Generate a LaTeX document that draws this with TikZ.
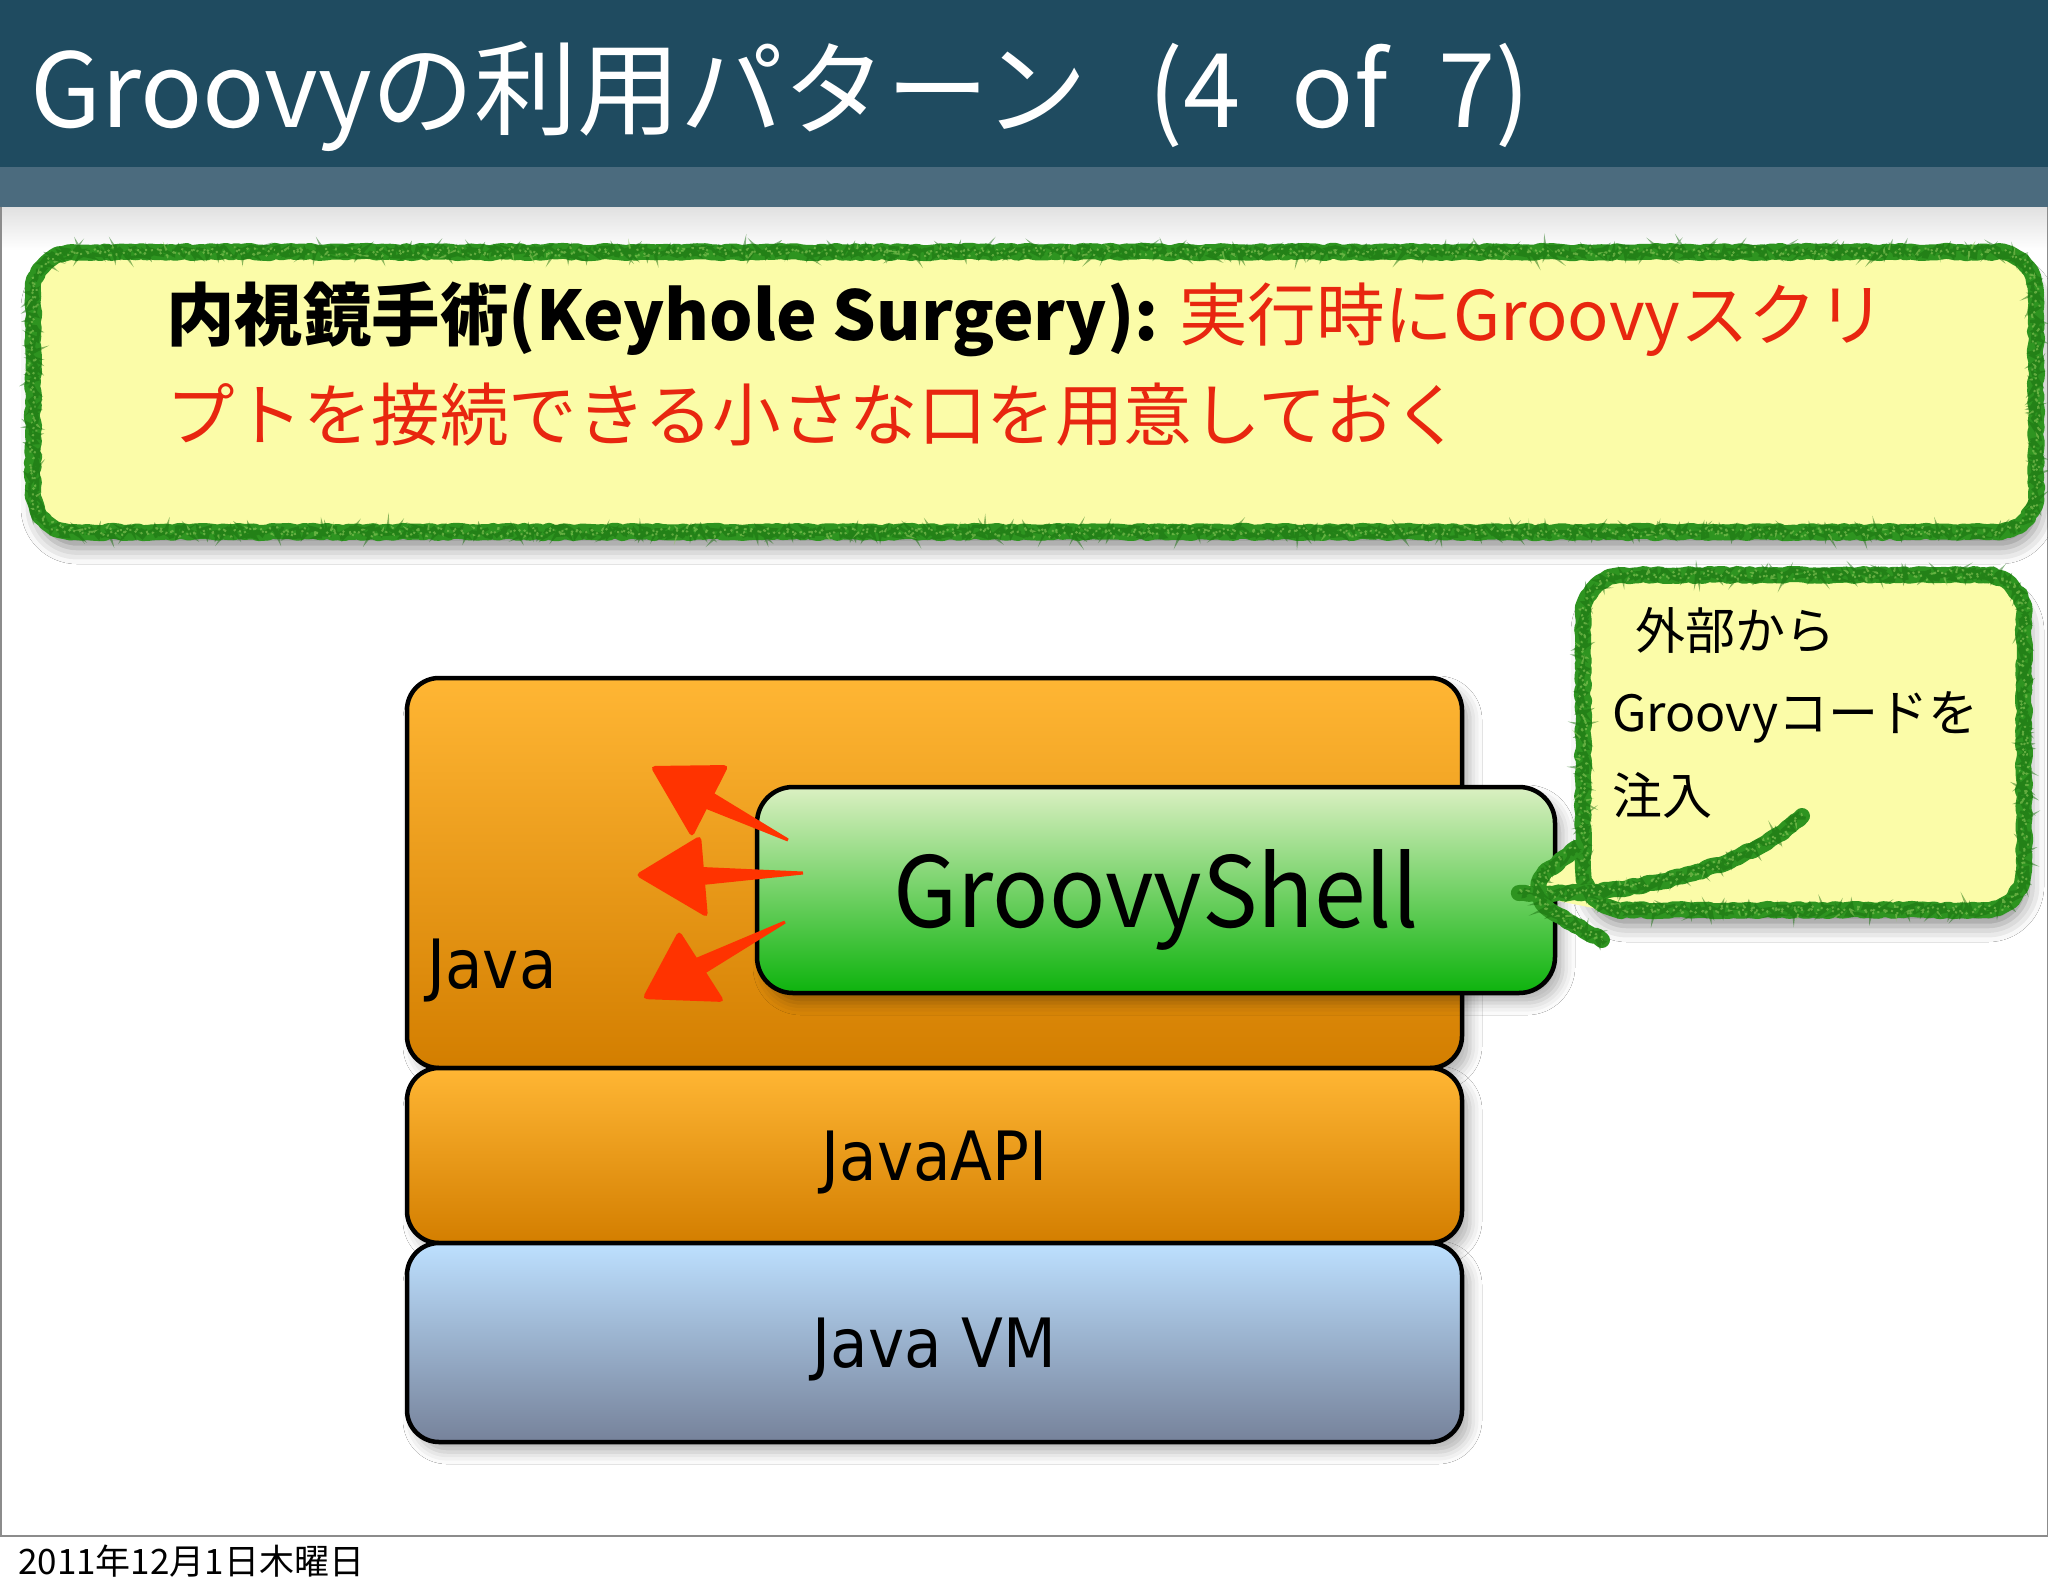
\documentclass[tikz,border=0pt]{standalone}
\usepackage{fontspec}
\usepackage{xcolor}
\usepackage{tikz}
\usetikzlibrary{calc,positioning,decorations.pathmorphing,shadows.blur}
\setmainfont{Noto Sans CJK JP}
\newfontfamily\labfont[FakeStretch=0.9]{DejaVu Sans}
\newfontfamily\shellfont[FakeStretch=0.95]{Noto Sans CJK JP}
\definecolor{bar}{HTML}{1F4B60}
\definecolor{barlow}{HTML}{4B6B7E}
\definecolor{note}{HTML}{FBFCA8}
\definecolor{crayon}{HTML}{2E9420}
\definecolor{crayondark}{HTML}{1A7010}
\definecolor{crayonlight}{HTML}{8CC85A}
\definecolor{alert}{HTML}{E8260F}
\definecolor{arrowred}{HTML}{FF3300}
\definecolor{javatop}{HTML}{FFB634}
\definecolor{javabot}{HTML}{D37E00}
\definecolor{vmtop}{HTML}{BDE0FF}
\definecolor{vmmid}{HTML}{A2B9D6}
\definecolor{vmbot}{HTML}{76829A}
\definecolor{shelltop}{HTML}{DBF0C2}
\definecolor{shellmid}{HTML}{85D670}
\definecolor{shellbot}{HTML}{0DB30D}
\tikzset{
  frame/.style={draw=black!45, line width=1.5pt},
  titletext/.style={text=white, inner sep=0pt, font=\fontsize{103}{110}\selectfont},
  datetext/.style={text=black, inner sep=0pt, font=\fontsize{35}{40}\selectfont},
  notebox/.style={fill=note, rounded corners=40pt, inner sep=0pt, outer sep=0pt,
    blur shadow={shadow xshift=4pt, shadow yshift=-16pt, shadow blur radius=16pt, shadow opacity=45}},
  crayonline/.style={rounded corners=40pt,
    postaction={sharp corners, draw=crayon, line width=16pt, line cap=round, line join=round,
      decorate, decoration={random steps, segment length=5pt, amplitude=1.2pt}},
    postaction={sharp corners, draw=crayondark, line width=3pt, opacity=0.5, line cap=round,
      decorate, decoration={random steps, segment length=1.5pt, amplitude=6pt}},
    postaction={sharp corners, draw=crayonlight, line width=2pt, opacity=0.6, dash pattern=on 2pt off 6pt,
      decorate, decoration={random steps, segment length=2pt, amplitude=5pt}}},
  keytext/.style={inner sep=0pt, font=\fontsize{68.5}{100}\selectfont},
  calltext/.style={inner sep=0pt, font=\fontsize{50}{60}\selectfont},
  layer/.style={draw=black, line width=4.5pt, rounded corners=32pt, inner sep=0pt, outer sep=0pt,
    minimum width=1055pt, text height=50pt, text depth=0pt, font=\labfont\fontsize{68}{80}\selectfont,
    blur shadow={shadow xshift=8pt, shadow yshift=-10pt, shadow blur radius=12pt, shadow opacity=30}},
  javafill/.style={top color=javatop, bottom color=javabot},
  vmfill/.style={top color=vmtop, middle color=vmmid, bottom color=vmbot},
  shellfill/.style={top color=shelltop, middle color=shellmid, bottom color=shellbot},
  redarrow/.style={fill=arrowred, rounded corners=5pt},
}
\begin{document}
\begin{tikzpicture}[x=1pt,y=-1pt]
  \useasboundingbox (0,0) rectangle (2048,1593);
  \fill[white] (0,0) rectangle (2048,1593);
  \pgfmathsetseed{7}

  % title band
  \fill[bar] (0,0) rectangle (2048,167);
  \fill[barlow] (0,167) rectangle (2048,207);
  \shade[top color=black!12, bottom color=white] (0,207) rectangle (2048,250);
  \draw[frame] (0.75,207) -- (0.75,1536) -- (2047.25,1536) -- (2047.25,207);
  \node[titletext, anchor=base west] (title) at (30,127)
    {Groovyの利用パターン\hspace{38pt} (4\hspace{28pt} of\hspace{28pt} 7)};
  \node[datetext, anchor=base west] (date) at (18,1574) {2011年12月1日木曜日};

  % keyhole note
  \node[notebox, minimum width=2003pt, minimum height=280pt, anchor=north west] (keyhole) at (33,252) {};
  \path[crayonline] (keyhole.north west) rectangle (keyhole.south east);
  \node[keytext, anchor=base west] (keyA) at (166,340)
    {{\bfseries 内視鏡手術(Keyhole Surgery):} \textcolor{alert}{実行時にGroovyスクリ}};
  \node[keytext, text=alert, anchor=base west] (keyB) at (166,440) {プトを接続できる小さな口を用意しておく};

  % layers
  \node[layer, javafill, minimum height=390pt, anchor=north west] (java) at (407,678) {};
  \node[layer, javafill, minimum height=175pt, below=0pt of java] (api) {JavaAPI};
  \node[layer, vmfill, minimum height=199pt, below=0pt of api] (vm) {Java VM};
  \node[inner sep=0pt, font=\labfont\fontsize{68}{80}\selectfont, anchor=base west] (javalabel)
    at ($(java.south west)+(20,-80)$) {Java};
  \node[layer, shellfill, rounded corners=36pt, minimum width=798pt, minimum height=206pt,
    text height=75pt, anchor=north west, font=\shellfont\fontsize{98}{110}\selectfont] (shell)
    at (757,787) {GroovyShell};

  % red arrows out of the shell
  \coordinate (t1) at (788,840); \coordinate (h1) at (708,800);
  \coordinate (a1) at (650,766); \coordinate (b1) at (729,765); \coordinate (c1) at (692,838);
  \coordinate (t2) at (803,873); \coordinate (h2) at (702,876);
  \coordinate (a2) at (635,875); \coordinate (b2) at (701,835); \coordinate (c2) at (708,918);
  \coordinate (t3) at (785,922); \coordinate (h3) at (700,966);
  \coordinate (a3) at (642,999); \coordinate (b3) at (679,930); \coordinate (c3) at (725,1002);
  \foreach \i in {1,2,3} {
    \fill[redarrow] (a\i) -- (b\i) -- (c\i) -- cycle;
    \fill[arrowred] ($(h\i)!9pt!90:(t\i)$) -- ($(t\i)!1.5pt!-90:(h\i)$)
      -- ($(t\i)!1.5pt!90:(h\i)$) -- ($(h\i)!9pt!-90:(t\i)$) -- cycle;
  }

  % injection callout
  \node[notebox, minimum width=441pt, minimum height=335pt, anchor=north west] (inject) at (1583,575) {};
  \coordinate (tip) at ($(shell.east)+(-36,3)$);
  \coordinate (tailstart) at ($(inject.south west)+(219,-94)$);
  \fill[note] (tip) -- ($(inject.south west)+(10,-70)$) -- ($(inject.south west)+(30,2)$) -- cycle;
  \path[crayonline] (inject.north west) rectangle (inject.south east);
  \path[crayonline] (tailstart) .. controls ($(tailstart)+(-60,55)$) and ($(tip)+(110,5)$) .. (tip);
  \path[crayonline] ($(tip)+(57,-45)$) -- (tip) -- ($(tip)+(83,47)$);
  \node[calltext, anchor=base west] (callA) at (1635,649) {外部から};
  \node[calltext, anchor=base west] (callB) at (1612,731) {Groovyコードを};
  \node[calltext, anchor=base west] (callC) at (1612,814) {注入};
\end{tikzpicture}
\end{document}
